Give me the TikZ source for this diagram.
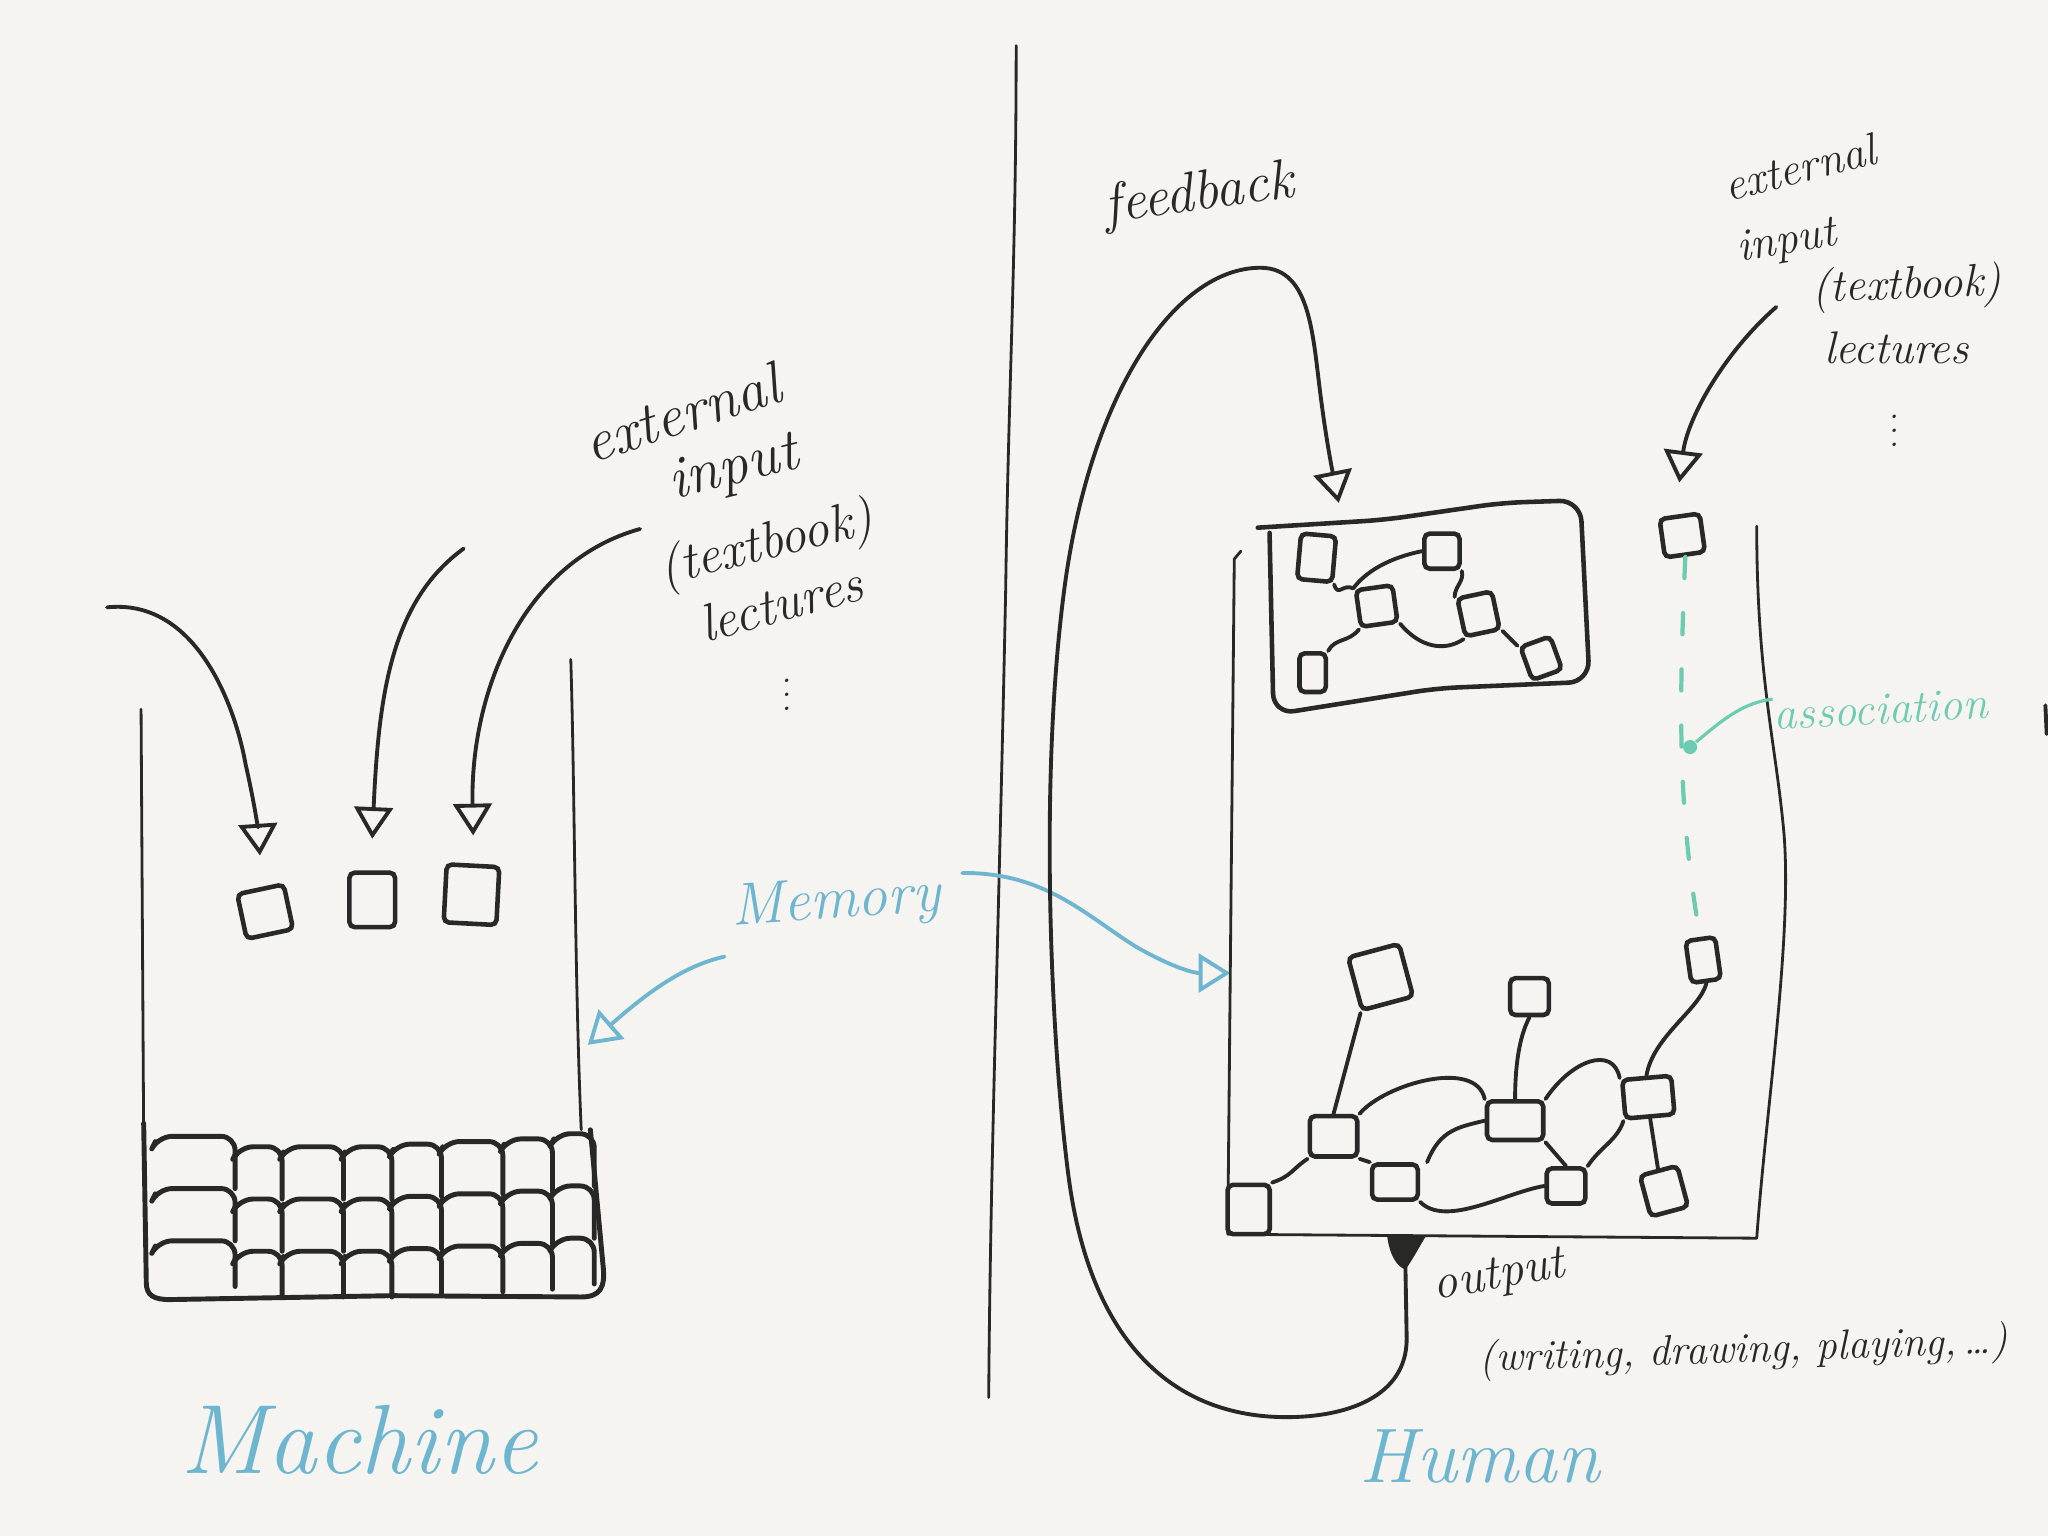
\documentclass[tikz,border=0pt]{standalone}
\usetikzlibrary{arrows.meta}
\definecolor{ink}{RGB}{40,40,38}
\definecolor{membl}{RGB}{110,182,207}
\definecolor{assoc}{RGB}{108,204,178}
\definecolor{paper}{RGB}{245,244,240}

\begin{document}
\begin{tikzpicture}[x=0.01306cm,y=-0.01306cm,
  wall/.style={draw=ink,line width=0.8pt,line cap=round,line join=round},
  pen/.style={draw=ink,line width=1.1pt,line cap=round,line join=round},
  sq/.style={draw=ink,line width=1.3pt,rounded corners=1.5pt,inner sep=0pt},
  tri/.style={-{Triangle[open,length=9pt,width=11pt,line width=1.1pt]}},
  blueln/.style={draw=membl,line width=1.1pt,line cap=round},
  hand/.style={text=ink,inner sep=0pt,font=\fontsize{#1}{#1}\selectfont\itshape},
  hand/.default=16]
\fill[paper] (0,0) rectangle (1568,1176);
\useasboundingbox (0,0) rectangle (1568,1176);

% divider
\draw[wall] (778,35) .. controls (778,200) and (772,300) .. (770,450) .. controls (765,700) and (758,900) .. (757,1070);

% ---- machine ----
\draw[wall] (108,543) -- (110,870);
\draw[wall] (437,505) .. controls (440,600) and (440,750) .. (445,865);
\draw[pen,line width=1.4pt] (110,860) -- (112,982) .. controls (112,992) and (118,995) .. (130,995)
  -- (300,992) -- (445,993) .. controls (460,993) and (463,985) .. (462,972) -- (452,865);
\foreach \xa/\xb/\t in {118/180/0,180/216/8,216/263/8,263/300/8,300/338/6,338/385/4,385/423/2,423/455/-2}
  \foreach \ya/\yb in {870/910,910/950,950/985}
    \draw[pen,line width=1.4pt,rounded corners=4pt] (\xa+1,\ya+\t+4) -- (\xa+3,\ya+\t) -- (\xb,\ya+\t) -- (\xb,\yb+\t);

\node[sq,minimum width=13.5pt,minimum height=13pt,rotate=12] (m1) at (203,698) {};
\node[sq,minimum width=13pt,minimum height=15.5pt] (m2) at (285,689) {};
\node[sq,minimum width=15pt,minimum height=16.5pt,rotate=-3] (m3) at (361,685) {};
\coordinate (src1) at (82,465);
\coordinate (src2) at (355,420);
\coordinate (src3) at (490,405);
\draw[pen,tri] (src1) .. controls (150,458) and (180,540) .. (188,585) .. controls (196,620) and (198,640) .. ([yshift=9pt]m1.north);
\draw[pen,tri] (src2) .. controls (300,460) and (290,530) .. ([yshift=9pt]m2.north);
\draw[pen,tri] (src3) .. controls (400,430) and (360,530) .. ([yshift=8pt]m3.north);

\node[hand=17,rotate=18] (ext1) at (522,316) {external};
\node[hand=17,rotate=14] (inp1) at (562,360) {input};
\node[hand=15,rotate=14] (tb1) at (587,418) {(textbook)};
\node[hand=15,rotate=15] (lec1) at (598,462) {lectures};
\node[hand=9] (dot1) at (602,524) {$\vdots$};

\node[hand=17,text=membl,rotate=4] (mem) at (640,692) {Memory};
\coordinate (mwall) at (450,800);
\coordinate (hwall) at (942,745);
\draw[blueln,tri] ([shift={(-6,14)}]mem.south west) .. controls (520,740) and (490,765) .. (mwall);
\draw[blueln,tri] ([shift={(16,-18)}]mem.east) .. controls (800,668) and (830,700) .. (870,725) .. controls (900,742) and (915,745) .. (hwall);

\node[hand=28,text=membl] (mach) at (275,1102) {Machine};

% ---- human ----
\draw[wall] (950,422) -- (945,428) -- (940,945) -- (1345,948) .. controls (1352,850) and (1372,720) .. (1366,640)
  .. controls (1360,570) and (1345,520) .. (1345,403);
\draw[pen,line width=1.3pt,rounded corners=6pt] (963,404) -- (1060,398) -- (1150,385) -- (1210,383) -- (1217,522)
  -- (1100,527) -- (975,547) -- (972,408);

\node[sq,minimum width=10pt,minimum height=13pt,rotate=-5] (A) at (1008,427) {};
\node[sq,minimum width=10pt,minimum height=10pt] (B) at (1104,422) {};
\node[sq,minimum width=10.5pt,minimum height=10.5pt,rotate=8] (C) at (1054,464) {};
\node[sq,minimum width=10pt,minimum height=11pt,rotate=12] (D) at (1132,470) {};
\node[sq,minimum width=7.5pt,minimum height=11pt] (E) at (1005,515) {};
\node[sq,minimum width=9pt,minimum height=10pt,rotate=20] (F) at (1180,504) {};
\draw[pen] (A.south east) .. controls +(3,10) and +(-8,-4) .. (C.north west);
\draw[pen] (C.north west) .. controls +(15,-20) and +(-10,2) .. (B.west);
\draw[pen] (B.south east) .. controls +(2,8) and +(0,-8) .. (D.north west);
\draw[pen] (C.south west) .. controls +(-8,10) and +(5,-10) .. (E.north east);
\draw[pen] (C.south east) .. controls +(15,18) and +(-15,10) .. (D.south west);
\draw[pen] (D.south east) -- (F.north west);

\node[sq,minimum width=15pt,minimum height=15.5pt,rotate=15] (G) at (1057,748) {};
\node[sq,minimum width=11pt,minimum height=10.5pt] (H) at (1171,763) {};
\node[sq,minimum width=8.5pt,minimum height=12pt,rotate=8] (I) at (1304,735) {};
\node[sq,minimum width=13.5pt,minimum height=11.5pt] (J) at (1021,870) {};
\node[sq,minimum width=13pt,minimum height=10pt] (K) at (1068,905) {};
\node[sq,minimum width=16pt,minimum height=11pt] (L) at (1160,858) {};
\node[sq,minimum width=14pt,minimum height=11pt,rotate=5] (M) at (1262,840) {};
\node[sq,minimum width=11pt,minimum height=10pt] (N) at (1199,908) {};
\node[sq,minimum width=11pt,minimum height=12pt,rotate=15] (O) at (1274,912) {};
\node[sq,minimum width=12pt,minimum height=14pt] (P) at (956,926) {};
\draw[pen] (P.north east) .. controls +(15,-5) and +(-12,8) .. (J.south west);
\draw[pen] (J.north) -- (G.south west);
\draw[pen] (J.north east) .. controls (1060,830) and (1130,810) .. (L.north west);
\draw[pen] (J.south east) -- (K.north west);
\draw[pen] ([xshift=2pt]K.north east) .. controls +(10,-25) and +(-20,5) .. (L.west);
\draw[pen] (L.north) .. controls +(0,-25) and +(-8,15) .. (H.south);
\draw[pen] (L.south east) -- (N.north);
\draw[pen] (K.south east) .. controls +(20,20) and +(-30,5) .. (N.west);
\draw[pen] (L.north east) .. controls +(20,-30) and +(-5,-25) .. (M.north west);
\draw[pen] (M.north) .. controls +(5,-30) and +(-5,20) .. (I.south);
\draw[pen] (M.south) -- (O.north);
\draw[pen] (N.north east) .. controls +(10,-15) and +(-5,15) .. (M.south west);

% output and feedback loop
\fill[ink] (1062,946) .. controls (1064,962) and (1070,970) .. (1076,972) .. controls (1082,964) and (1088,952) .. (1092,946) -- cycle;
\coordinate (out) at (1076,968);
\coordinate (fbtip) at (1025,385);
\draw[pen,tri] (out) -- (1077,1025) .. controls (1077,1070) and (1030,1085) .. (985,1085)
  .. controls (900,1085) and (835,1030) .. (818,900) .. controls (805,800) and (795,600) .. (815,450)
  .. controls (835,300) and (900,205) .. (965,205) .. controls (1005,205) and (1005,260) .. (1012,310)
  .. controls (1016,340) and (1020,360) .. (fbtip);
\node[hand=16,rotate=8] (fb) at (918,150) {feedback};

\node[sq,minimum width=11.5pt,minimum height=11pt,rotate=8] (Q) at (1288,410) {};
\coordinate (src4) at (1360,235);
\draw[pen,tri] (src4) .. controls (1320,270) and (1292,320) .. ([yshift=9pt]Q.north);
\node[hand=13,rotate=14] (ext2) at (1378,128) {external};
\node[hand=13,rotate=10] (inp2) at (1368,186) {input};
\node[hand=13,rotate=2] (tb2) at (1460,220) {(textbook)};
\node[hand=13] (lec2) at (1452,266) {lectures};
\node[hand=9] (dot2) at (1450,322) {$\vdots$};

\draw[assoc,line width=1.2pt,line cap=round,dash pattern=on 6pt off 10pt] (Q.south) .. controls (1285,550) and (1285,620) .. (I.north);
\node[fill=assoc,circle,inner sep=0pt,minimum size=4pt] (adot) at (1294,572) {};
\node[hand=13,text=assoc,rotate=3] (asc) at (1440,543) {association};
\draw[assoc,line width=0.9pt] (adot) .. controls (1320,550) and (1335,538) .. (asc.north west);

\node[hand=14,rotate=10] (outl) at (1148,978) {output};
\node[hand=12,rotate=2] (outd) at (1335,1035) {(writing, drawing, playing,\,\dots)};
\node[hand=22,text=membl] (hum) at (1133,1115) {Human};

\draw[pen] (1566,540) -- (1567,562);
\end{tikzpicture}
\end{document}
